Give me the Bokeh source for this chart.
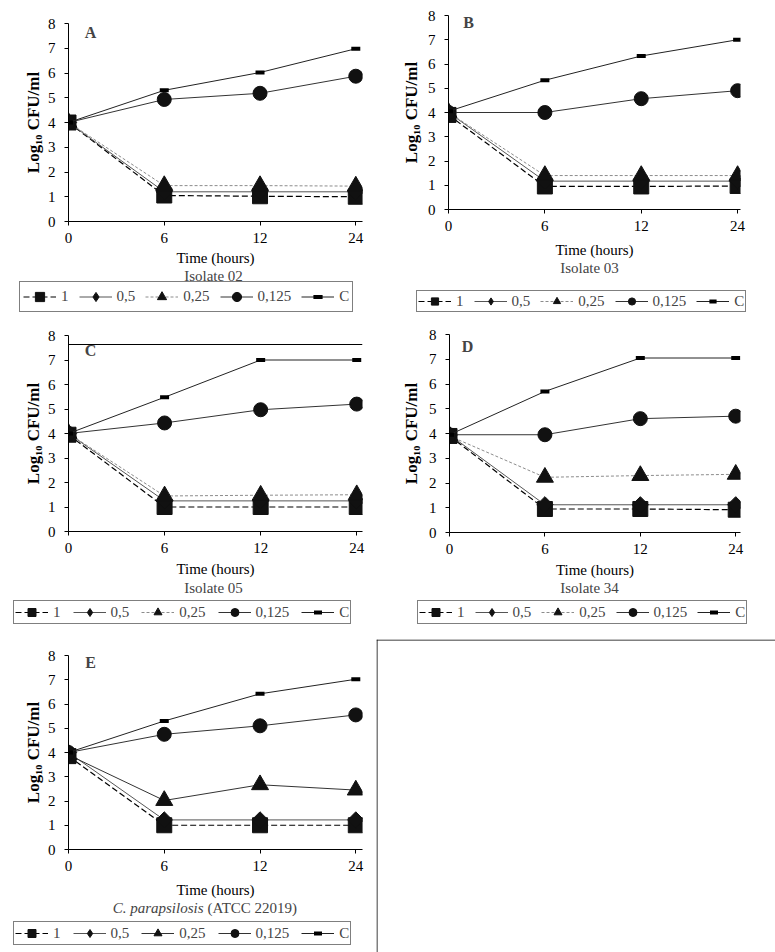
import math
from bokeh.plotting import figure
from bokeh.models import Legend, LegendItem, Label, Span, FixedTicker, Range1d
from bokeh.layouts import row, column
from bokeh.embed import file_html
from bokeh.resources import INLINE

# ---------------- data ----------------
hours = ["0", "6", "12", "24"]
positions = [0, 1, 2, 3]
series_names = ["1", "0,5", "0,25", "0,125", "C"]

# A - Isolate 02
a_conc_1 = [4.0, 1.05, 1.02, 1.0]
a_conc_05 = [4.0, 1.2, 1.2, 1.2]
a_conc_025 = [4.0, 1.45, 1.45, 1.43]
a_conc_0125 = [4.0, 4.93, 5.18, 5.87]
a_control = [4.0, 5.3, 6.02, 6.98]

# B - Isolate 03
b_conc_1 = [3.9, 0.95, 0.95, 0.97]
b_conc_05 = [4.0, 1.17, 1.17, 1.17]
b_conc_025 = [4.0, 1.4, 1.4, 1.4]
b_conc_0125 = [4.0, 4.0, 4.57, 4.9]
b_control = [4.05, 5.33, 6.33, 7.0]

# C - Isolate 05
c_conc_1 = [3.95, 1.0, 1.0, 1.0]
c_conc_05 = [4.0, 1.25, 1.25, 1.25]
c_conc_025 = [4.0, 1.45, 1.48, 1.5]
c_conc_0125 = [4.0, 4.43, 4.97, 5.2]
c_control = [4.0, 5.48, 7.0, 7.0]

# D - Isolate 34
d_conc_1 = [3.9, 0.95, 0.95, 0.92]
d_conc_05 = [3.95, 1.12, 1.12, 1.12]
d_conc_025 = [3.9, 2.23, 2.3, 2.35]
d_conc_0125 = [3.95, 3.95, 4.6, 4.7]
d_control = [3.95, 5.7, 7.05, 7.05]

# E - C. parapsilosis ATCC 22019
e_conc_1 = [3.85, 1.0, 1.0, 1.0]
e_conc_05 = [4.0, 1.22, 1.22, 1.22]
e_conc_025 = [3.9, 2.02, 2.67, 2.45]
e_conc_0125 = [4.0, 4.75, 5.1, 5.55]
e_control = [4.0, 5.3, 6.42, 7.02]

# ---------------- styles ----------------
FONT = "Liberation Serif"
BASE_STYLE = [
    dict(marker="square", lmarker="square", size=15, angle=0.0, color="black", dash="6 3", lw=1.2),
    dict(marker="square", lmarker="diamond", size=11.5, angle=math.pi / 4, color="#555555",
         dash="solid", lw=1.0),
    dict(marker="triangle", lmarker="triangle", size=17, angle=0.0, color="#8c8c8c", dash="3 2", lw=1.0),
    dict(marker="circle", lmarker="circle", size=14, angle=0.0, color="#333333", dash="solid", lw=1.0),
    dict(marker="dash", lmarker="dash", size=9, angle=0.0, color="#222222", dash="solid", lw=1.0),
]
E_STYLE = [dict(s) for s in BASE_STYLE]
E_STYLE[2].update(color="#333333", dash="solid")
NAN = float("nan")


def add_series(p, xs, ys, st, legend_glyph=False):
    lr = p.line(xs, ys, line_color=st["color"], line_width=st["lw"], line_dash=st["dash"])
    marker = st["lmarker"] if legend_glyph else st["marker"]
    angle = 0.0 if legend_glyph else st["angle"]
    if marker == "dash":
        sr = p.scatter(xs, ys, marker="dash", size=st["size"], line_color="black", line_width=4)
    else:
        sr = p.scatter(xs, ys, marker=marker, size=st["size"], angle=angle,
                       fill_color="#111111", line_color="#111111", line_width=1)
    return lr, sr


def bare_figure(W, H, **kw):
    f = figure(width=W, height=H, output_backend="svg", toolbar_location=None,
               frame_align=False, **kw)
    f.outline_line_color = None
    f.background_fill_color = "white"
    f.border_fill_color = "white"
    return f


def make_plot(letter, series, geo, styles):
    p = bare_figure(geo["W"], geo["H"], x_range=Range1d(0, geo["xend"]), y_range=Range1d(0, 8),
                    min_border_left=geo["bl"], min_border_right=geo["br"],
                    min_border_top=geo["bt"], min_border_bottom=geo["bb"])
    p.xgrid.visible = False
    p.ygrid.visible = False

    xa = p.xaxis[0]
    xa.ticker = FixedTicker(ticks=positions)
    xa.major_label_overrides = {pos: h for pos, h in zip(positions, hours)}
    xa.axis_label = "Time (hours)"
    xa.axis_label_text_font = FONT
    xa.axis_label_text_font_size = "15px"
    xa.axis_label_text_font_style = "normal"
    xa.axis_label_standoff = geo["xls"]
    xa.major_label_text_font = FONT
    xa.major_label_text_font_size = "15px"
    xa.major_label_standoff = 7

    ya = p.yaxis[0]
    ya.ticker = FixedTicker(ticks=list(range(0, 9)))
    ya.axis_label = "Log\u2081\u2080 CFU/ml"
    ya.axis_label_text_font = FONT
    ya.axis_label_text_font_size = "17px"
    ya.axis_label_text_font_style = "bold"
    ya.axis_label_standoff = geo["yls"]
    ya.major_label_text_font = FONT
    ya.major_label_text_font_size = "15px"
    ya.major_label_standoff = 9

    for ax in (xa, ya):
        ax.axis_line_color = "black"
        ax.axis_line_width = 1
        ax.major_tick_line_color = "black"
        ax.major_tick_out = 4
        ax.major_tick_in = 0
        ax.minor_tick_out = 0
        ax.minor_tick_in = 0
        ax.major_label_text_color = "black"
        ax.axis_label_text_color = "black"

    for vals, st in zip(series, styles):
        add_series(p, positions, vals, st)

    p.add_layout(Label(x=geo["let"][0], y=geo["let"][1], x_units="screen", y_units="screen",
                       text=letter, text_font=FONT, text_font_size="16px",
                       text_font_style="bold", text_align="center", text_baseline="middle"))
    return p


def make_strip(subtitle, geo, styles):
    s = bare_figure(geo["W"], geo["SH"], x_range=Range1d(0, 1), y_range=Range1d(0, 1),
                    min_border_left=0, min_border_right=0, min_border_top=0, min_border_bottom=0,
                    x_axis_location=None, y_axis_location=None)
    s.grid.visible = False
    items = []
    for name, st in zip(series_names, styles):
        lr, sr = add_series(s, [NAN], [NAN], st, legend_glyph=True)
        items.append(LegendItem(label=name, renderers=[lr, sr]))
    legend = Legend(items=items, location=geo["leg"], orientation="horizontal",
                    border_line_color="black", border_line_width=1,
                    background_fill_color="white", background_fill_alpha=1.0,
                    label_text_font=FONT, label_text_font_size="15px",
                    glyph_width=33, glyph_height=geo["lgh"], label_height=geo["lgh"],
                    label_width=0, label_standoff=5, spacing=geo["lsp"],
                    padding=geo["lpad"], margin=0)
    s.add_layout(legend)
    sx, sy = geo["sub"]
    if isinstance(subtitle, str):
        s.add_layout(Label(x=sx, y=sy, x_units="screen", y_units="screen",
                           text=subtitle, text_font=FONT, text_font_size="15px",
                           text_align="center", text_baseline="middle"))
    else:
        s.add_layout(Label(x=sx - 2, y=sy, x_units="screen", y_units="screen",
                           text=subtitle[0], text_font=FONT, text_font_size="15px",
                           text_font_style="italic", text_align="right",
                           text_baseline="middle"))
        s.add_layout(Label(x=sx + 2, y=sy, x_units="screen", y_units="screen",
                           text=subtitle[1], text_font=FONT, text_font_size="15px",
                           text_align="left", text_baseline="middle"))
    return s


geoA = dict(W=388, H=268, bl=68, br=26, bt=23, bb=46, xend=3.07, yls=2, xls=4, let=(22, 189),
            SH=52, sub=(213, 45), leg=(19, 8), lgh=23, lsp=10, lpad=3)
geoB = dict(W=387, H=260, bl=60, br=35, bt=15, bb=46, xend=3.03, yls=4, xls=8, let=(20, 187),
            SH=60, sub=(201, 53), leg=(28, 8), lgh=18, lsp=10, lpad=1)
geoC = dict(W=388, H=259, bl=68, br=26, bt=15, bb=46, xend=3.06, yls=2, xls=5, let=(22, 181),
            SH=60, sub=(213, 52), leg=(13, 15), lgh=20, lsp=12, lpad=1)
geoD = dict(W=387, H=260, bl=61, br=35, bt=14, bb=46, xend=3.05, yls=5, xls=5, let=(18, 186),
            SH=59, sub=(201, 52), leg=(29, 15), lgh=20, lsp=10, lpad=1)
geoE = dict(W=376, H=261, bl=68, br=14, bt=16, bb=46, xend=3.07, yls=2, xls=8, let=(22, 187),
            SH=52, sub=(205, 45), leg=(13, 7), lgh=20, lsp=12, lpad=1)

pA = make_plot("A", [a_conc_1, a_conc_05, a_conc_025, a_conc_0125, a_control], geoA, BASE_STYLE)
sA = make_strip("Isolate 02", geoA, BASE_STYLE)
pB = make_plot("B", [b_conc_1, b_conc_05, b_conc_025, b_conc_0125, b_control], geoB, BASE_STYLE)
sB = make_strip("Isolate 03", geoB, BASE_STYLE)
pC = make_plot("C", [c_conc_1, c_conc_05, c_conc_025, c_conc_0125, c_control], geoC, BASE_STYLE)
sC = make_strip("Isolate 05", geoC, BASE_STYLE)
pD = make_plot("D", [d_conc_1, d_conc_05, d_conc_025, d_conc_0125, d_control], geoD, BASE_STYLE)
sD = make_strip("Isolate 34", geoD, BASE_STYLE)
pE = make_plot("E", [e_conc_1, e_conc_05, e_conc_025, e_conc_0125, e_control], geoE, E_STYLE)
sE = make_strip(("C. parapsilosis", "(ATCC 22019)"), geoE, E_STYLE)

# stray rule crossing panel C in the scanned page
pC.add_layout(Span(location=187, location_units="screen", dimension="width",
                   line_color="black", line_width=1))

# empty bottom-right box of the page
blank = bare_figure(399, 313, x_range=Range1d(0, 1), y_range=Range1d(0, 1),
                    min_border_left=0, min_border_right=0, min_border_top=0, min_border_bottom=0,
                    x_axis_location=None, y_axis_location=None)
blank.grid.visible = False
blank.add_layout(Span(location=312.5, location_units="screen", dimension="width",
                      line_color="black", line_width=1))
blank.add_layout(Span(location=0.5, location_units="screen", dimension="height",
                      line_color="black", line_width=1))

layout = column(
    row(column(pA, sA), column(pB, sB)),
    row(column(pC, sC), column(pD, sD)),
    row(column(pE, sE), blank),
)

with open("out.html", "w") as f:
    f.write(file_html(layout, INLINE))
